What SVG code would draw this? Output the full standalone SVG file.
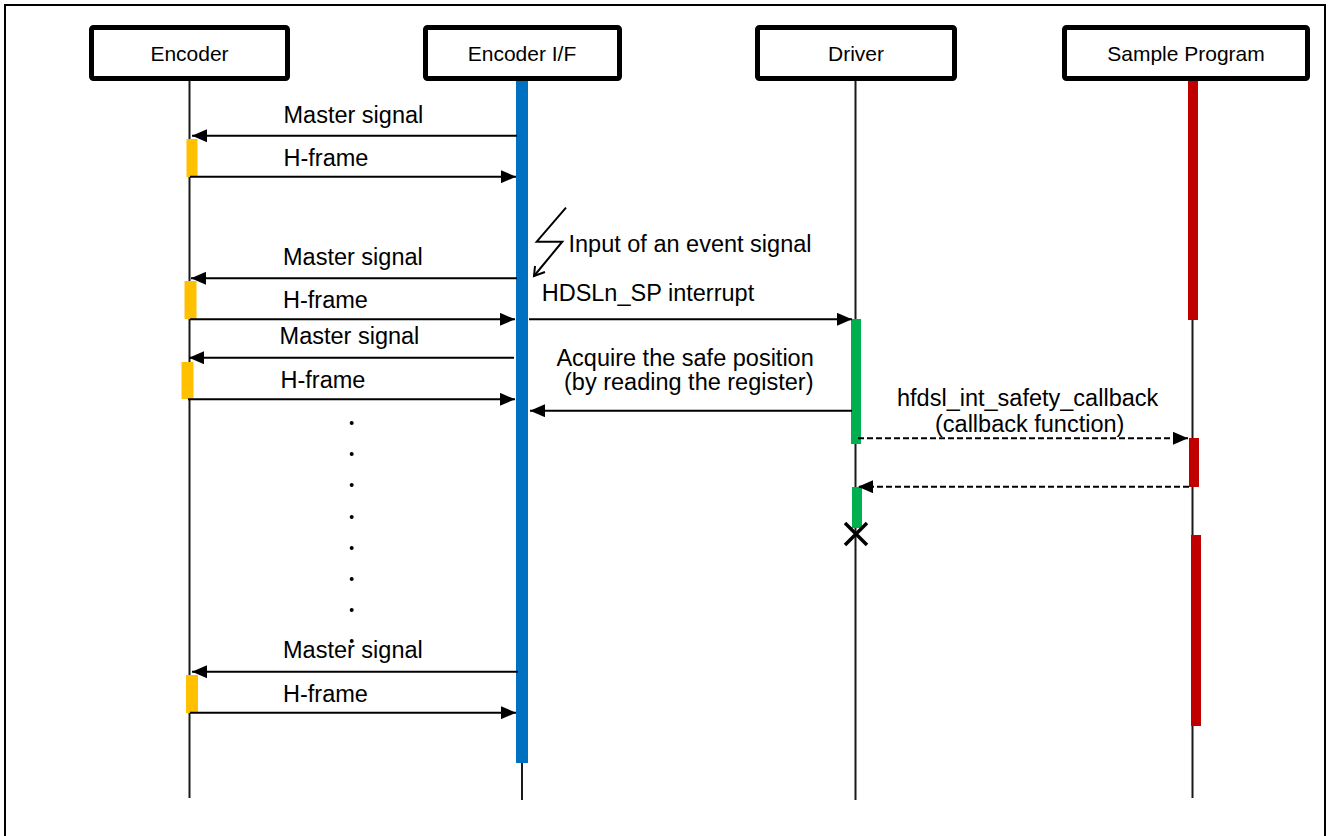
<svg xmlns="http://www.w3.org/2000/svg" width="1328" height="836" viewBox="0 0 1328 836">
<style>
.box{fill:#fff;stroke:#000;stroke-width:5}
.lbl{font-family:"Liberation Sans",Arial,sans-serif;font-size:21px;fill:#000;text-anchor:middle}
.t{font-family:"Liberation Sans",Arial,sans-serif;font-size:23.5px;fill:#000}
.life{stroke:#1a1a1a;stroke-width:2;fill:none}
.msg{stroke:#000;stroke-width:2;fill:none;marker-end:url(#ah)}
.dash{stroke:#000;stroke-width:2;fill:none;stroke-dasharray:6 3;marker-end:url(#ah)}
.blue{fill:#0070c0}
.red{fill:#c00000}
.green{fill:#00b050}
.yellow{fill:#ffc000}
</style>
<defs>
<marker id="ah" viewBox="0 0 15 13" refX="15" refY="6.5" markerWidth="15" markerHeight="13" markerUnits="userSpaceOnUse" orient="auto">
<path d="M0,0 L15,6.5 L0,13 Z" fill="#000"/>
</marker>
</defs>
<rect width="1328" height="836" fill="#fff"/>
<path d="M5,836 V5 H1325 V836" fill="none" stroke="#000" stroke-width="2"/>

<g id="lifelines">
<line class="life" x1="189.5" y1="81" x2="189.5" y2="798"/>
<line class="life" x1="522" y1="81" x2="522" y2="800"/>
<line class="life" x1="855.5" y1="81" x2="855.5" y2="800"/>
<line class="life" x1="1192.5" y1="81" x2="1192.5" y2="798"/>
</g>

<g id="node-encoder">
<rect class="box" x="91.5" y="27.5" width="196" height="51" rx="2"/>
<text class="lbl" x="189.5" y="61">Encoder</text>
</g>
<g id="node-encoder-if">
<rect class="box" x="425.5" y="27.5" width="194" height="51" rx="2"/>
<text class="lbl" x="522" y="61">Encoder I/F</text>
</g>
<g id="node-driver">
<rect class="box" x="757.5" y="27.5" width="197" height="51" rx="2"/>
<text class="lbl" x="856" y="61">Driver</text>
</g>
<g id="node-sample">
<rect class="box" x="1064.5" y="27.5" width="243" height="51" rx="2"/>
<text class="lbl" x="1186" y="61">Sample Program</text>
</g>

<g id="activations">
<rect class="blue" x="516" y="81" width="12" height="682"/>
<rect class="red" x="1188" y="81" width="10" height="239"/>
<rect class="red" x="1189" y="438" width="10" height="49"/>
<rect class="red" x="1191" y="535" width="10" height="191"/>
<rect class="green" x="851" y="319" width="10" height="125"/>
<rect class="green" x="852" y="487" width="10" height="41"/>
<rect class="yellow" x="186.5" y="139" width="11" height="38"/>
<rect class="yellow" x="184.5" y="281" width="12" height="38"/>
<rect class="yellow" x="181.5" y="362" width="12" height="37"/>
<rect class="yellow" x="186" y="675" width="12" height="38"/>
</g>

<g id="connectors">
<line class="msg" x1="517" y1="135.7" x2="192" y2="135.7"/>
<line class="msg" x1="190" y1="176.7" x2="516" y2="176.7"/>
<line class="msg" x1="517" y1="278.3" x2="191" y2="278.3"/>
<line class="msg" x1="190" y1="319.3" x2="515" y2="319.3"/>
<line class="msg" x1="529" y1="319.3" x2="852" y2="319.3"/>
<line class="msg" x1="514" y1="357.7" x2="189" y2="357.7"/>
<line class="msg" x1="188" y1="399.3" x2="515" y2="399.3"/>
<line class="msg" x1="852" y1="410.7" x2="530" y2="410.7"/>
<line class="dash" x1="858" y1="438.3" x2="1188" y2="438.3"/>
<line class="dash" x1="1189" y1="486.7" x2="858" y2="486.7"/>
<line class="msg" x1="518" y1="671.7" x2="192" y2="671.7"/>
<line class="msg" x1="190" y1="712.7" x2="516" y2="712.7"/>
<polyline points="566,207.7 536.7,241.7 562.3,241.7 534,276" fill="none" stroke="#000" stroke-width="2"/>
<polyline points="535,266 534,276 545,272" fill="none" stroke="#000" stroke-width="2"/>
<path d="M845,523 L867,545 M845,545 L867,523" stroke="#000" stroke-width="3.5" fill="none"/>
</g>

<g id="labels">
<text class="t" x="283.5" y="122.7">Master signal</text>
<text class="t" x="283.5" y="165.7">H-frame</text>
<text class="t" x="283" y="265">Master signal</text>
<text class="t" x="283" y="308.3">H-frame</text>
<text class="t" x="541.7" y="301">HDSLn_SP interrupt</text>
<text class="t" x="279.6" y="344">Master signal</text>
<text class="t" x="280.5" y="388.3">H-frame</text>
<text class="t" x="568.5" y="251.7">Input of an event signal</text>
<text class="t" x="556.4" y="366">Acquire the safe position</text>
<text class="t" x="564" y="390">(by reading the register)</text>
<text class="t" x="897" y="406">hfdsl_int_safety_callback</text>
<text class="t" x="935" y="432">(callback function)</text>
<text class="t" x="283" y="658">Master signal</text>
<text class="t" x="283" y="701.7">H-frame</text>
</g>

<g id="dots" fill="#000">
<circle cx="351.7" cy="423" r="2"/>
<circle cx="351.7" cy="454" r="2"/>
<circle cx="351.7" cy="485" r="2"/>
<circle cx="351.7" cy="517" r="2"/>
<circle cx="351.7" cy="548" r="2"/>
<circle cx="351.7" cy="579" r="2"/>
<circle cx="351.7" cy="610" r="2"/>
<circle cx="351.7" cy="641" r="2"/>
</g>
</svg>
